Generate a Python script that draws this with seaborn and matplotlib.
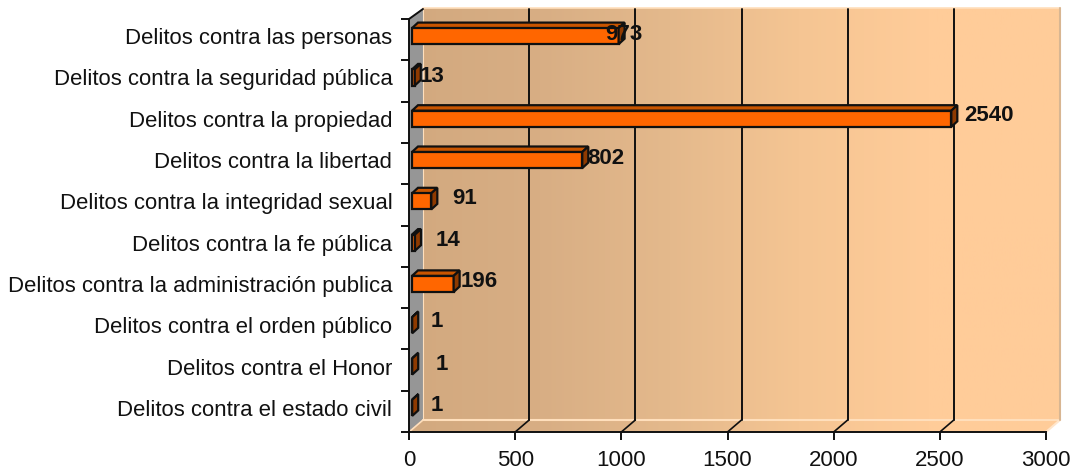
import numpy as np
import pandas as pd
import matplotlib
matplotlib.use("Agg")
import matplotlib.pyplot as plt
import seaborn as sns
from matplotlib.colors import LinearSegmentedColormap
from matplotlib.patches import Polygon
from matplotlib.transforms import ScaledTranslation

delitos = [
    "Delitos contra las personas",
    "Delitos contra la seguridad pública",
    "Delitos contra la propiedad",
    "Delitos contra la libertad",
    "Delitos contra la integridad sexual",
    "Delitos contra la fe pública",
    "Delitos contra la administración publica",
    "Delitos contra el orden público",
    "Delitos contra el Honor",
    "Delitos contra el estado civil",
]
casos = [973, 13, 2540, 802, 91, 14, 196, 1, 1, 1]
x_ticks = [0, 500, 1000, 1500, 2000, 2500, 3000]

# label shift from the bar end, in pixels
label_dx = [-11, 1, 21, 7, 17, 16, 9, 8, 13, 8]
label_dy = [-2, -1, -3, -2, -3, -2, -2, -4, -2, -2]

FRONT = "#FF6600"
TOP = "#C95500"
SIDE = "#8F3A00"
WALL = "#969696"
LINE = "#101010"

W, H = 1076, 476
AX_L, AX_R, AX_T, AX_B = 409, 1046, 19, 432
XMAX = 3000

sns.set_theme(style="white")
plt.rcParams["font.family"] = ["Liberation Sans", "DejaVu Sans"]

fig = plt.figure(figsize=(W / 100, H / 100), dpi=100, facecolor="white")
ax = fig.add_axes([AX_L / W, 1 - AX_B / H, (AX_R - AX_L) / W, (AX_B - AX_T) / H])
ax.patch.set_visible(False)

df = pd.DataFrame({"delito": delitos, "casos": casos})
sns.barplot(data=df, y="delito", x="casos", color=FRONT, saturation=1, width=0.39, ax=ax)

px_x = XMAX / (AX_R - AX_L)
px_y = len(delitos) / (AX_B - AX_T)
YTOP, YBOT = -0.5, len(delitos) - 0.5
ax.set_xlim(0, XMAX)
ax.set_ylim(YBOT, YTOP)


def pt(px, py):
    # pixel offsets from the front corner (bottom left) into data coords
    return (px * px_x, YBOT + py * px_y)


# depth of the chart box
DX, DY = 14, -12
outline = [pt(0, 0), pt(DX, DY), pt(DX, -424), pt(651, -424), pt(651, DY), pt(637, 0)]
cmap = LinearSegmentedColormap.from_list("wall", ["#D2A97F", "#D8AE84", "#E4B98C", "#F5C593", "#FFCC99", "#FFCC99"])
img = ax.imshow(np.linspace(0, 1, 256).reshape(1, -1), cmap=cmap, aspect="auto", zorder=0,
                extent=(0, 651 * px_x, YBOT, YTOP - 11 * px_y))
clip = Polygon(outline, transform=ax.transData, fc="none", ec="none", clip_on=False)
ax.add_patch(clip)
img.set_clip_box(fig.bbox)
img.set_clip_path(clip)
ax.set_xlim(0, XMAX)
ax.set_ylim(YBOT, YTOP)

# left wall
ax.add_patch(Polygon([pt(0, 0), pt(DX, DY), pt(DX, -424), pt(0, -413)], fc=WALL, ec="none",
                     zorder=1, clip_on=False))
# light edges of the box
ax.plot(*zip(pt(DX, DY), pt(651, DY)), color="#FFDFBC", lw=1.5, zorder=1, clip_on=False)
ax.plot(*zip(pt(DX, -424), pt(651, -424)), color="#FFDFBC", lw=1.2, zorder=1, clip_on=False)
ax.plot(*zip(pt(637, 0), pt(651, DY)), color="#FFE6CC", lw=1.5, zorder=1, clip_on=False)
ax.plot(*zip(pt(651, DY), pt(651, -424)), color="#D8B692", lw=1.5, zorder=1, clip_on=False)
ax.plot(*zip(pt(0, 0), pt(DX, DY)), color="#FFDFBC", lw=1.2, zorder=1, clip_on=False)
ax.plot(*zip(pt(DX, DY), pt(DX, -424)), color="#FFDFBC", lw=0.8, zorder=1, clip_on=False)
ax.plot(*zip(pt(0, -413), pt(DX, -423)), color=LINE, lw=1.4, zorder=2, clip_on=False)

# grid on the back wall and its slant across the floor
for t in x_ticks[1:-1]:
    back = t + DX * px_x
    ax.plot([back, back], [pt(0, DY)[1], pt(0, -423)[1]], color=LINE, lw=1.4, zorder=2, clip_on=False)
    ax.plot([t, back], [YBOT, pt(0, DY)[1]], color=LINE, lw=1.2, zorder=2, clip_on=False)

# the 3d faces of the bars
BAR_DX, BAR_DY = 6, -5.5
for patch, n in zip(ax.patches, casos):
    x0 = 3 * px_x
    y0 = patch.get_y() - 3.5 * px_y
    w, h = patch.get_width(), patch.get_height()
    patch.set_x(x0)
    patch.set_y(y0)
    patch.set(edgecolor=LINE, linewidth=1.6, zorder=4, clip_on=False)
    x1 = x0 + w
    ddx, ddy = BAR_DX * px_x, BAR_DY * px_y
    ax.add_patch(Polygon([(x0, y0), (x0 + ddx, y0 + ddy), (x1 + ddx, y0 + ddy), (x1, y0)],
                         fc=TOP, ec=LINE, lw=1.6, zorder=3, clip_on=False))
    ax.add_patch(Polygon([(x1, y0), (x1 + ddx, y0 + ddy), (x1 + ddx, y0 + h + ddy), (x1, y0 + h)],
                         fc=SIDE, ec=LINE, lw=1.6, zorder=5, clip_on=False))

# value labels
for i, n in enumerate(casos):
    ax.annotate(str(n), xy=(n + 3 * px_x, i - 3.5 * px_y), xytext=(label_dx[i] * 0.72 + 12, -label_dy[i] * 0.72),
                textcoords="offset points", ha="center", va="center", fontsize=16,
                fontweight="bold", color="#111111", zorder=6)

ax.set_xlabel("")
ax.set_ylabel("")
ax.set_xticks(x_ticks)
ax.set_yticks(range(len(delitos)))
ax.set_yticklabels(delitos)
ax.set_yticks(np.arange(len(delitos) + 1) - 0.5, minor=True)
ax.tick_params(axis="y", which="major", length=0, pad=12, labelsize=15.9, labelcolor="#111111")
ax.tick_params(axis="y", which="minor", length=6, width=1.4, color=LINE, left=True)
ax.tick_params(axis="x", which="major", length=6, width=1.4, color=LINE, bottom=True, pad=7,
               labelsize=16, labelcolor="#111111")

for side in ["top", "right"]:
    ax.spines[side].set_visible(False)
for side in ["left", "bottom"]:
    ax.spines[side].set_color(LINE)
    ax.spines[side].set_linewidth(1.4)
    ax.spines[side].set_zorder(2)

shift = ScaledTranslation(0, 3.5 / 100, fig.dpi_scale_trans)
for lab in ax.get_yticklabels():
    lab.set_transform(lab.get_transform() + shift)

fig.savefig("out.png", dpi=100, facecolor="white")
plt.close(fig)
